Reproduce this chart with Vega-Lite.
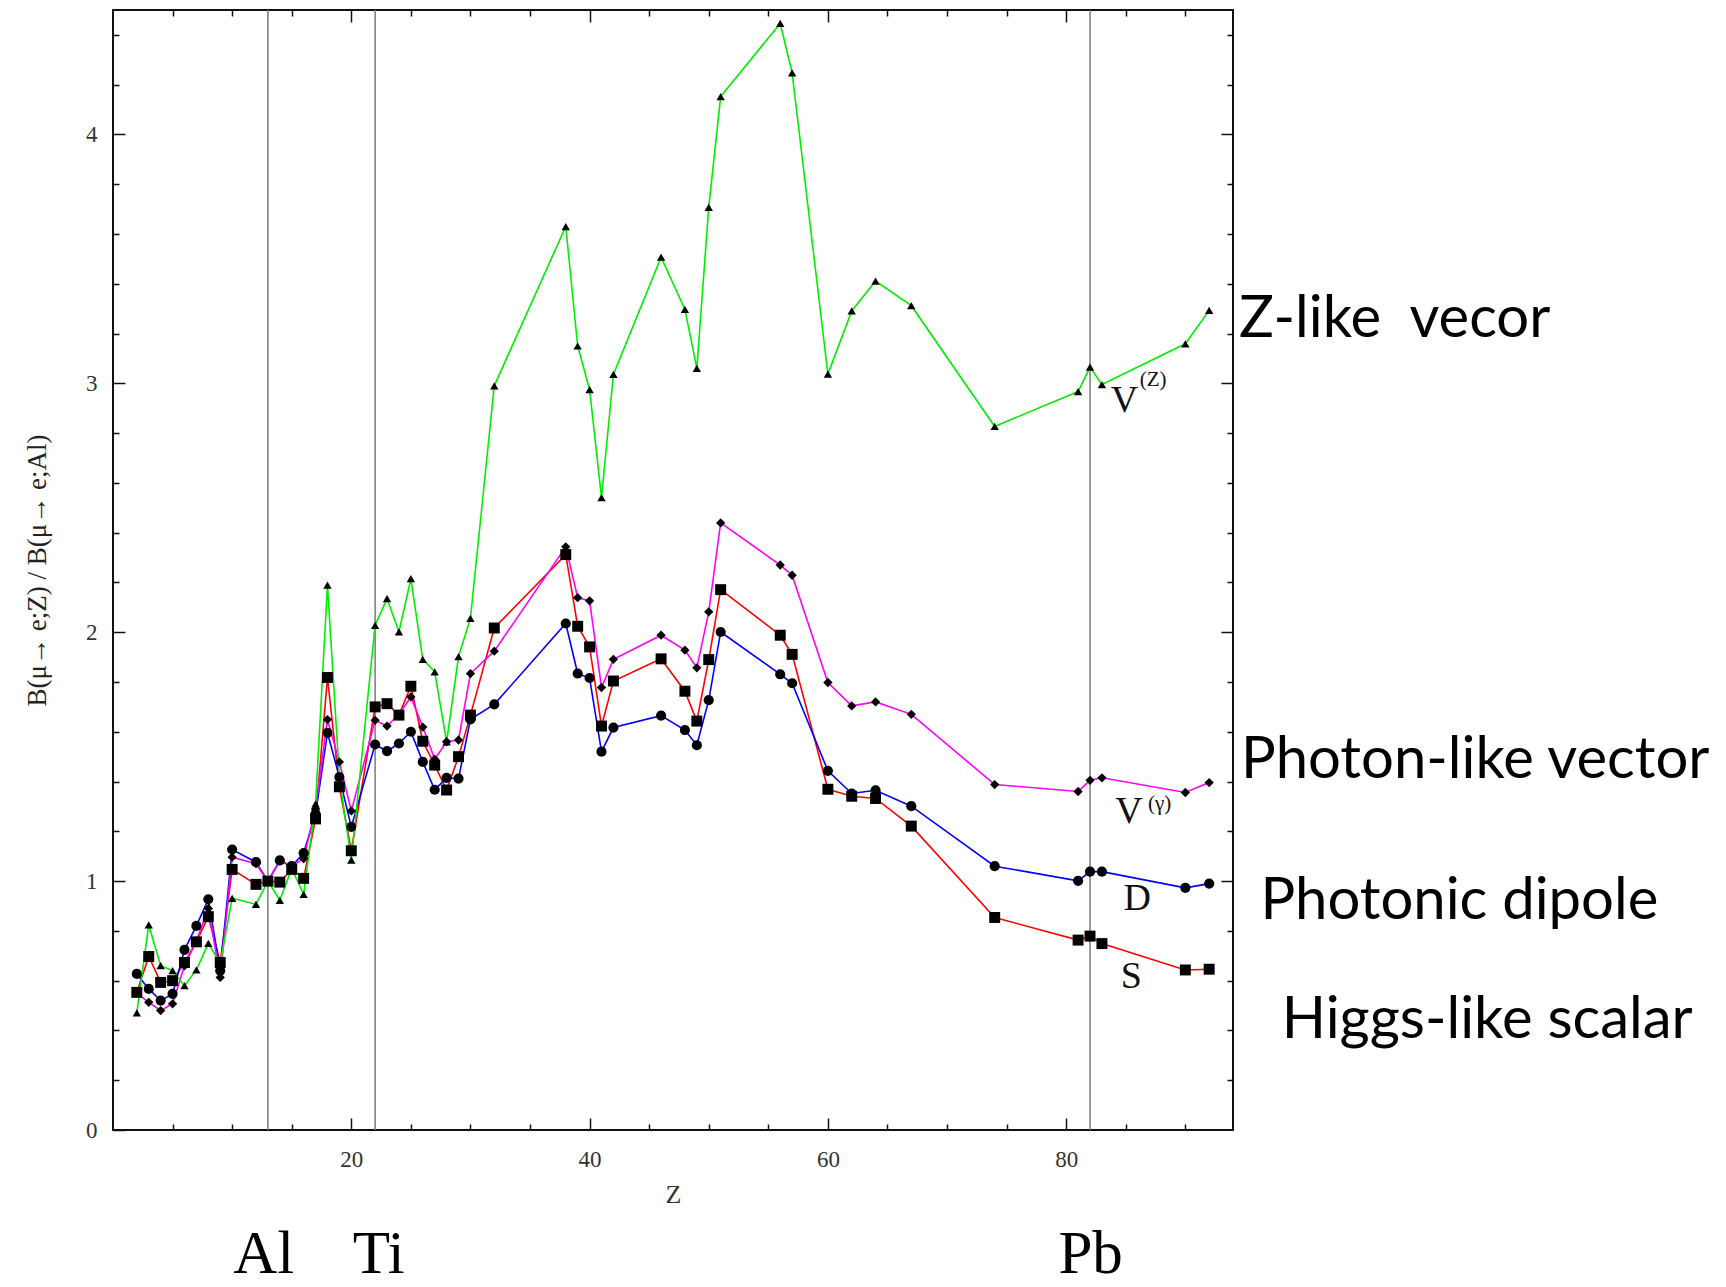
{
  "$schema": "https://vega.github.io/schema/vega-lite/v6.json",
  "width": 1120,
  "height": 1120,
  "autosize": {"type": "none"},
  "padding": {"left": 113, "top": 10, "right": 493, "bottom": 157},
  "background": "white",
  "config": {
    "view": {"stroke": "#111", "strokeWidth": 2},
    "axis": {"grid": false, "domain": false}
  },
  "datasets": {
    "curves": [
      {"Z": 2, "series": "S", "v": 0.553}, {"Z": 2, "series": "D", "v": 0.627}, {"Z": 2, "series": "Vg", "v": 0.55}, {"Z": 2, "series": "VZ", "v": 0.471},
      {"Z": 3, "series": "S", "v": 0.697}, {"Z": 3, "series": "D", "v": 0.567}, {"Z": 3, "series": "Vg", "v": 0.513}, {"Z": 3, "series": "VZ", "v": 0.824},
      {"Z": 4, "series": "S", "v": 0.593}, {"Z": 4, "series": "D", "v": 0.52}, {"Z": 4, "series": "Vg", "v": 0.48}, {"Z": 4, "series": "VZ", "v": 0.66},
      {"Z": 5, "series": "S", "v": 0.6}, {"Z": 5, "series": "D", "v": 0.547}, {"Z": 5, "series": "Vg", "v": 0.507}, {"Z": 5, "series": "VZ", "v": 0.64},
      {"Z": 6, "series": "S", "v": 0.673}, {"Z": 6, "series": "D", "v": 0.724}, {"Z": 6, "series": "Vg", "v": 0.66}, {"Z": 6, "series": "VZ", "v": 0.58},
      {"Z": 7, "series": "S", "v": 0.756}, {"Z": 7, "series": "D", "v": 0.82}, {"Z": 7, "series": "Vg", "v": 0.76}, {"Z": 7, "series": "VZ", "v": 0.643},
      {"Z": 8, "series": "S", "v": 0.857}, {"Z": 8, "series": "D", "v": 0.927}, {"Z": 8, "series": "Vg", "v": 0.89}, {"Z": 8, "series": "VZ", "v": 0.75},
      {"Z": 9, "series": "S", "v": 0.673}, {"Z": 9, "series": "D", "v": 0.64}, {"Z": 9, "series": "Vg", "v": 0.613}, {"Z": 9, "series": "VZ", "v": 0.67},
      {"Z": 10, "series": "S", "v": 1.047}, {"Z": 10, "series": "D", "v": 1.127}, {"Z": 10, "series": "Vg", "v": 1.096}, {"Z": 10, "series": "VZ", "v": 0.931},
      {"Z": 12, "series": "S", "v": 0.987}, {"Z": 12, "series": "D", "v": 1.076}, {"Z": 12, "series": "Vg", "v": 1.07}, {"Z": 12, "series": "VZ", "v": 0.907},
      {"Z": 13, "series": "S", "v": 1.0}, {"Z": 13, "series": "D", "v": 1.0}, {"Z": 13, "series": "Vg", "v": 1.0}, {"Z": 13, "series": "VZ", "v": 1.0},
      {"Z": 14, "series": "S", "v": 0.996}, {"Z": 14, "series": "D", "v": 1.083}, {"Z": 14, "series": "Vg", "v": 1.08}, {"Z": 14, "series": "VZ", "v": 0.923},
      {"Z": 15, "series": "S", "v": 1.047}, {"Z": 15, "series": "D", "v": 1.06}, {"Z": 15, "series": "Vg", "v": 1.06}, {"Z": 15, "series": "VZ", "v": 1.05},
      {"Z": 16, "series": "S", "v": 1.011}, {"Z": 16, "series": "D", "v": 1.113}, {"Z": 16, "series": "Vg", "v": 1.09}, {"Z": 16, "series": "VZ", "v": 0.947},
      {"Z": 17, "series": "S", "v": 1.25}, {"Z": 17, "series": "D", "v": 1.27}, {"Z": 17, "series": "Vg", "v": 1.29}, {"Z": 17, "series": "VZ", "v": 1.31},
      {"Z": 18, "series": "S", "v": 1.818}, {"Z": 18, "series": "D", "v": 1.596}, {"Z": 18, "series": "Vg", "v": 1.649}, {"Z": 18, "series": "VZ", "v": 2.189},
      {"Z": 19, "series": "S", "v": 1.379}, {"Z": 19, "series": "D", "v": 1.418}, {"Z": 19, "series": "Vg", "v": 1.479}, {"Z": 19, "series": "VZ", "v": 1.42},
      {"Z": 20, "series": "S", "v": 1.122}, {"Z": 20, "series": "D", "v": 1.218}, {"Z": 20, "series": "Vg", "v": 1.282}, {"Z": 20, "series": "VZ", "v": 1.084},
      {"Z": 22, "series": "S", "v": 1.7}, {"Z": 22, "series": "D", "v": 1.549}, {"Z": 22, "series": "Vg", "v": 1.646}, {"Z": 22, "series": "VZ", "v": 2.028},
      {"Z": 23, "series": "S", "v": 1.713}, {"Z": 23, "series": "D", "v": 1.522}, {"Z": 23, "series": "Vg", "v": 1.623}, {"Z": 23, "series": "VZ", "v": 2.135},
      {"Z": 24, "series": "S", "v": 1.667}, {"Z": 24, "series": "D", "v": 1.553}, {"Z": 24, "series": "Vg", "v": 1.67}, {"Z": 24, "series": "VZ", "v": 2.001},
      {"Z": 25, "series": "S", "v": 1.783}, {"Z": 25, "series": "D", "v": 1.6}, {"Z": 25, "series": "Vg", "v": 1.74}, {"Z": 25, "series": "VZ", "v": 2.215},
      {"Z": 26, "series": "S", "v": 1.562}, {"Z": 26, "series": "D", "v": 1.479}, {"Z": 26, "series": "Vg", "v": 1.619}, {"Z": 26, "series": "VZ", "v": 1.891},
      {"Z": 27, "series": "S", "v": 1.466}, {"Z": 27, "series": "D", "v": 1.367}, {"Z": 27, "series": "Vg", "v": 1.49}, {"Z": 27, "series": "VZ", "v": 1.841},
      {"Z": 28, "series": "S", "v": 1.366}, {"Z": 28, "series": "D", "v": 1.415}, {"Z": 28, "series": "Vg", "v": 1.56}, {"Z": 28, "series": "VZ", "v": 1.559},
      {"Z": 29, "series": "S", "v": 1.5}, {"Z": 29, "series": "D", "v": 1.412}, {"Z": 29, "series": "Vg", "v": 1.567}, {"Z": 29, "series": "VZ", "v": 1.902},
      {"Z": 30, "series": "S", "v": 1.667}, {"Z": 30, "series": "D", "v": 1.65}, {"Z": 30, "series": "Vg", "v": 1.834}, {"Z": 30, "series": "VZ", "v": 2.056},
      {"Z": 32, "series": "S", "v": 2.017}, {"Z": 32, "series": "D", "v": 1.71}, {"Z": 32, "series": "Vg", "v": 1.924}, {"Z": 32, "series": "VZ", "v": 2.99},
      {"Z": 38, "series": "S", "v": 2.312}, {"Z": 38, "series": "D", "v": 2.035}, {"Z": 38, "series": "Vg", "v": 2.343}, {"Z": 38, "series": "VZ", "v": 3.63},
      {"Z": 39, "series": "S", "v": 2.024}, {"Z": 39, "series": "D", "v": 1.834}, {"Z": 39, "series": "Vg", "v": 2.139}, {"Z": 39, "series": "VZ", "v": 3.15},
      {"Z": 40, "series": "S", "v": 1.941}, {"Z": 40, "series": "D", "v": 1.816}, {"Z": 40, "series": "Vg", "v": 2.126}, {"Z": 40, "series": "VZ", "v": 2.975},
      {"Z": 41, "series": "S", "v": 1.623}, {"Z": 41, "series": "D", "v": 1.52}, {"Z": 41, "series": "Vg", "v": 1.778}, {"Z": 41, "series": "VZ", "v": 2.541},
      {"Z": 42, "series": "S", "v": 1.804}, {"Z": 42, "series": "D", "v": 1.617}, {"Z": 42, "series": "Vg", "v": 1.891}, {"Z": 42, "series": "VZ", "v": 3.036},
      {"Z": 46, "series": "S", "v": 1.893}, {"Z": 46, "series": "D", "v": 1.665}, {"Z": 46, "series": "Vg", "v": 1.988}, {"Z": 46, "series": "VZ", "v": 3.507},
      {"Z": 48, "series": "S", "v": 1.763}, {"Z": 48, "series": "D", "v": 1.607}, {"Z": 48, "series": "Vg", "v": 1.928}, {"Z": 48, "series": "VZ", "v": 3.297},
      {"Z": 49, "series": "S", "v": 1.643}, {"Z": 49, "series": "D", "v": 1.546}, {"Z": 49, "series": "Vg", "v": 1.857}, {"Z": 49, "series": "VZ", "v": 3.06},
      {"Z": 50, "series": "S", "v": 1.89}, {"Z": 50, "series": "D", "v": 1.727}, {"Z": 50, "series": "Vg", "v": 2.082}, {"Z": 50, "series": "VZ", "v": 3.707},
      {"Z": 51, "series": "S", "v": 2.171}, {"Z": 51, "series": "D", "v": 2.001}, {"Z": 51, "series": "Vg", "v": 2.439}, {"Z": 51, "series": "VZ", "v": 4.152},
      {"Z": 56, "series": "S", "v": 1.988}, {"Z": 56, "series": "D", "v": 1.831}, {"Z": 56, "series": "Vg", "v": 2.27}, {"Z": 56, "series": "VZ", "v": 4.446},
      {"Z": 57, "series": "S", "v": 1.911}, {"Z": 57, "series": "D", "v": 1.795}, {"Z": 57, "series": "Vg", "v": 2.229}, {"Z": 57, "series": "VZ", "v": 4.247},
      {"Z": 60, "series": "S", "v": 1.369}, {"Z": 60, "series": "D", "v": 1.443}, {"Z": 60, "series": "Vg", "v": 1.798}, {"Z": 60, "series": "VZ", "v": 3.037},
      {"Z": 62, "series": "S", "v": 1.341}, {"Z": 62, "series": "D", "v": 1.352}, {"Z": 62, "series": "Vg", "v": 1.704}, {"Z": 62, "series": "VZ", "v": 3.291},
      {"Z": 64, "series": "S", "v": 1.332}, {"Z": 64, "series": "D", "v": 1.365}, {"Z": 64, "series": "Vg", "v": 1.72}, {"Z": 64, "series": "VZ", "v": 3.411},
      {"Z": 67, "series": "S", "v": 1.221}, {"Z": 67, "series": "D", "v": 1.301}, {"Z": 67, "series": "Vg", "v": 1.67}, {"Z": 67, "series": "VZ", "v": 3.312},
      {"Z": 74, "series": "S", "v": 0.854}, {"Z": 74, "series": "D", "v": 1.06}, {"Z": 74, "series": "Vg", "v": 1.388}, {"Z": 74, "series": "VZ", "v": 2.827},
      {"Z": 81, "series": "S", "v": 0.763}, {"Z": 81, "series": "D", "v": 1.001}, {"Z": 81, "series": "Vg", "v": 1.36}, {"Z": 81, "series": "VZ", "v": 2.967},
      {"Z": 82, "series": "S", "v": 0.779}, {"Z": 82, "series": "D", "v": 1.038}, {"Z": 82, "series": "Vg", "v": 1.405}, {"Z": 82, "series": "VZ", "v": 3.065},
      {"Z": 83, "series": "S", "v": 0.749}, {"Z": 83, "series": "D", "v": 1.038}, {"Z": 83, "series": "Vg", "v": 1.415}, {"Z": 83, "series": "VZ", "v": 2.995},
      {"Z": 90, "series": "S", "v": 0.643}, {"Z": 90, "series": "D", "v": 0.973}, {"Z": 90, "series": "Vg", "v": 1.356}, {"Z": 90, "series": "VZ", "v": 3.159},
      {"Z": 92, "series": "S", "v": 0.646}, {"Z": 92, "series": "D", "v": 0.99}, {"Z": 92, "series": "Vg", "v": 1.396}, {"Z": 92, "series": "VZ", "v": 3.293}
    ],
    "vlines": [{"Z": 13}, {"Z": 22}, {"Z": 82}],
    "rightLabels": [
      {"t": "Z-like\u00a0 vecor", "Z": 94.5, "v": 3.185},
      {"t": "Photon-like vector", "Z": 94.67, "v": 1.414},
      {"t": "Photonic dipole", "Z": 96.3, "v": 0.847},
      {"t": "Higgs-like scalar", "Z": 98.1, "v": 0.369}
    ],
    "elements": [
      {"t": "Al", "Z": 12.65, "v": -0.575},
      {"t": "Ti", "Z": 22.3, "v": -0.575},
      {"t": "Pb", "Z": 82.05, "v": -0.575}
    ],
    "curveLabels": [
      {"t": "V", "Z": 84.9, "v": 2.884},
      {"t": "V", "Z": 85.26, "v": 1.233},
      {"t": "D", "Z": 85.97, "v": 0.884},
      {"t": "S", "Z": 85.47, "v": 0.57}
    ],
    "supLabels": [
      {"t": "(Z)", "Z": 87.3, "v": 2.99},
      {"t": "(γ)", "Z": 87.85, "v": 1.285}
    ]
  },
  "layer": [
    {
      "data": {"name": "vlines"},
      "mark": {"type": "rule", "color": "#7a7a7a", "strokeWidth": 1.5},
      "encoding": {
        "x": {"field": "Z", "type": "quantitative", "scale": {"domain": [0, 94], "nice": false, "zero": false}, "axis": null}
      }
    },
    {
      "data": {"name": "curves"},
      "mark": {"type": "line", "strokeWidth": 1.6},
      "encoding": {
        "x": {
          "field": "Z", "type": "quantitative",
          "scale": {"domain": [0, 94], "nice": false, "zero": false},
          "axis": {
            "orient": "bottom",
            "values": [5, 10, 15, 20, 25, 30, 35, 40, 45, 50, 55, 60, 65, 70, 75, 80, 85, 90],
            "labelExpr": "datum.value % 20 === 0 ? format(datum.value, 'd') : ''",
            "tickSize": {"condition": {"test": "datum.value % 20 === 0", "value": -12}, "value": -6},
            "tickColor": "#111", "tickWidth": 1.5,
            "labelPadding": 30, "labelFont": "Liberation Serif", "labelFontSize": 23, "labelColor": "#333",
            "labelOverlap": false, "labelFlush": false,
            "title": "Z", "titleFont": "Liberation Serif", "titleFontSize": 26, "titleFontWeight": "normal", "titleColor": "#333", "titlePadding": 4
          }
        },
        "y": {
          "field": "v", "type": "quantitative",
          "scale": {"domain": [0, 4.5], "nice": false, "zero": false},
          "axis": {
            "orient": "left",
            "values": [0, 0.2, 0.4, 0.6, 0.8, 1, 1.2, 1.4, 1.6, 1.8, 2, 2.2, 2.4, 2.6, 2.8, 3, 3.2, 3.4, 3.6, 3.8, 4, 4.2, 4.4],
            "labelExpr": "datum.value % 1 === 0 ? format(datum.value, 'd') : ''",
            "tickSize": {"condition": {"test": "datum.value % 1 === 0", "value": -12}, "value": -6},
            "tickColor": "#111", "tickWidth": 1.5,
            "labelPadding": 28, "labelFont": "Liberation Serif", "labelFontSize": 23, "labelColor": "#333",
            "labelOverlap": false, "labelFlush": false,
            "title": "B(μ→ e;Z) / B(μ→ e;Al)", "titleFont": "Liberation Serif", "titleFontSize": 27, "titleFontWeight": "normal", "titleColor": "#222", "titlePadding": 34
          }
        },
        "color": {
          "field": "series", "type": "nominal",
          "scale": {"domain": ["S", "D", "Vg", "VZ"], "range": ["#ff0000", "#0000ff", "#ff00ff", "#00ee00"]},
          "legend": null
        }
      }
    },
    {
      "data": {"name": "curves"},
      "mark": {"type": "point", "filled": true, "color": "#000", "opacity": 1},
      "encoding": {
        "x": {
          "field": "Z", "type": "quantitative",
          "axis": {
            "orient": "top",
            "values": [5, 10, 15, 20, 25, 30, 35, 40, 45, 50, 55, 60, 65, 70, 75, 80, 85, 90],
            "labels": false,
            "tickSize": {"condition": {"test": "datum.value % 20 === 0", "value": -12}, "value": -6},
            "tickColor": "#111", "tickWidth": 1.5, "title": null
          }
        },
        "y": {
          "field": "v", "type": "quantitative",
          "axis": {
            "orient": "right",
            "values": [0.2, 0.4, 0.6, 0.8, 1, 1.2, 1.4, 1.6, 1.8, 2, 2.2, 2.4, 2.6, 2.8, 3, 3.2, 3.4, 3.6, 3.8, 4, 4.2, 4.4],
            "labels": false,
            "tickSize": {"condition": {"test": "datum.value % 1 === 0", "value": -12}, "value": -6},
            "tickColor": "#111", "tickWidth": 1.5, "title": null
          }
        },
        "shape": {
          "field": "series", "type": "nominal",
          "scale": {"domain": ["S", "D", "Vg", "VZ"], "range": ["square", "circle", "diamond", "triangle-up"]},
          "legend": null
        },
        "size": {
          "field": "series", "type": "nominal",
          "scale": {"domain": ["S", "D", "Vg", "VZ"], "range": [120, 70, 45, 50]},
          "legend": null
        }
      }
    },
    {
      "data": {"name": "rightLabels"},
      "mark": {"type": "text", "font": "Lato", "fontSize": 58, "align": "left", "baseline": "alphabetic", "color": "#000"},
      "encoding": {
        "x": {"field": "Z", "type": "quantitative", "axis": null},
        "y": {"field": "v", "type": "quantitative", "axis": null},
        "text": {"field": "t"}
      }
    },
    {
      "data": {"name": "elements"},
      "mark": {"type": "text", "font": "Liberation Serif", "fontSize": 61, "align": "center", "baseline": "alphabetic", "color": "#000"},
      "encoding": {
        "x": {"field": "Z", "type": "quantitative", "axis": null},
        "y": {"field": "v", "type": "quantitative", "axis": null},
        "text": {"field": "t"}
      }
    },
    {
      "data": {"name": "curveLabels"},
      "mark": {"type": "text", "font": "Liberation Serif", "fontSize": 38, "align": "center", "baseline": "alphabetic", "color": "#111"},
      "encoding": {
        "x": {"field": "Z", "type": "quantitative", "axis": null},
        "y": {"field": "v", "type": "quantitative", "axis": null},
        "text": {"field": "t"}
      }
    },
    {
      "data": {"name": "supLabels"},
      "mark": {"type": "text", "font": "Liberation Serif", "fontSize": 21, "align": "center", "baseline": "alphabetic", "color": "#111"},
      "encoding": {
        "x": {"field": "Z", "type": "quantitative", "axis": null},
        "y": {"field": "v", "type": "quantitative", "axis": null},
        "text": {"field": "t"}
      }
    }
  ],
  "resolve": {"axis": {"x": "independent", "y": "independent"}}
}
